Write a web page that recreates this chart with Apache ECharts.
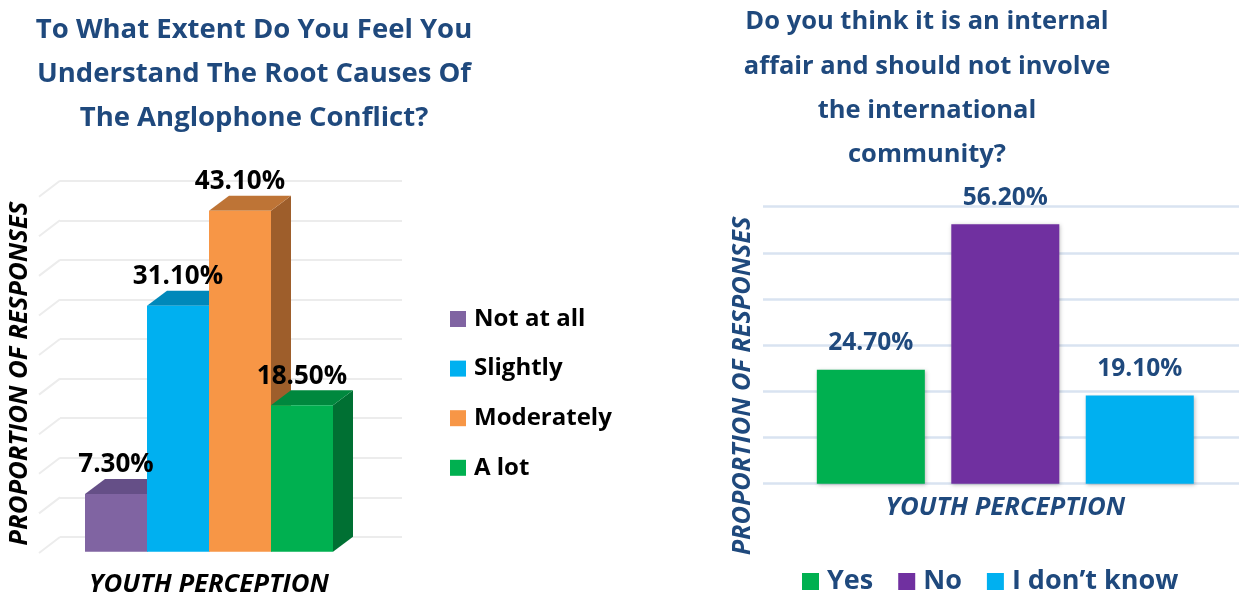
<!DOCTYPE html>
<html>
<head>
<meta charset="utf-8">
<title>Youth perception survey</title>
<script src="https://cdn.jsdelivr.net/npm/echarts@6/dist/echarts.min.js"></script>
<style>
  html, body { margin: 0; padding: 0; background: #ffffff; }
  #chart { width: 1239px; height: 593px; }
</style>
</head>
<body>
<div id="chart"></div>
<script>
// ---- data ----
const leftTitle = 'To What Extent Do You Feel You\nUnderstand The Root Causes Of\nThe Anglophone Conflict?';
const leftCategories = ['Not at all', 'Slightly', 'Moderately', 'A lot'];
const leftValues = [7.3, 31.1, 43.1, 18.5];

const rightTitle = 'Do you think it is an internal\naffair and should not involve\nthe international\ncommunity?';
const rightCategories = ['Yes', 'No', 'I don\u2019t know'];
const rightValues = [24.7, 56.2, 19.1];

const axisXName = 'YOUTH PERCEPTION';
const axisYName = 'PROPORTION OF RESPONSES';

// ---- styling ----
const FONT = '"Open Sans", Lato, sans-serif';
const NAVY = '#1F497D';
// front / top / side shades of each 3D column
const leftShades = [
  { front: '#8064A2', top: '#654F87', side: '#574478' },
  { front: '#00B0F0', top: '#0088BA', side: '#0076A3' },
  { front: '#F79646', top: '#BE7436', side: '#9E5E2B' },
  { front: '#00B050', top: '#00883E', side: '#007033' }
];
const rightColors = ['#00B050', '#7030A0', '#00B0F0'];

const LEFT_MAX = 45, LEFT_STEP = 5;
const RIGHT_MAX = 60, RIGHT_STEP = 10;
const DEPTH_X = 20, DEPTH_Y = -15;   // offset of the back face of each column

const chart = echarts.init(document.getElementById('chart'), null, { renderer: 'canvas' });

// 3D column drawn from the value through the axis scale
function renderColumn(params, api) {
  const idx = api.value(0);
  const val = api.value(1);
  const base = api.coord([idx, 0]);
  const top = api.coord([idx, val]);
  const bw = api.size([1, 0])[0];
  const xl = base[0] - bw / 2, xr = base[0] + bw / 2;
  const yb = base[1], yt = top[1];
  const shade = leftShades[params.seriesIndex - 1];
  const z = params.seriesIndex * 3;
  return {
    type: 'group',
    children: [
      { type: 'polygon', z2: z, shape: { points: [[xr, yt], [xr + DEPTH_X, yt + DEPTH_Y], [xr + DEPTH_X, yb + DEPTH_Y], [xr, yb]] }, style: { fill: shade.side } },
      { type: 'polygon', z2: z + 1, shape: { points: [[xl, yt], [xr, yt], [xr + DEPTH_X, yt + DEPTH_Y], [xl + DEPTH_X, yt + DEPTH_Y]] }, style: { fill: shade.top } },
      { type: 'rect', z2: z + 2, shape: { x: xl, y: yt, width: xr - xl, height: yb - yt }, style: { fill: shade.front } },
      { type: 'text', z2: 100, x: base[0], y: yt - 29, style: { text: val.toFixed(2) + '%', fill: '#000', font: 'bold 26px ' + FONT, align: 'center', verticalAlign: 'middle' } }
    ]
  };
}

// receding gridlines on the left wall of the 3D plot
function renderWall(params, api) {
  const children = [];
  for (let v = 0; v <= LEFT_MAX; v += LEFT_STEP) {
    const p = api.coord([0, v]);
    children.push({ type: 'line', shape: { x1: p[0], y1: p[1], x2: p[0] - DEPTH_X - 1, y2: p[1] - DEPTH_Y + 1 }, style: { stroke: '#ECECEC', lineWidth: 2 } });
  }
  return { type: 'group', children };
}

const leftSeries = leftCategories.map((name, i) => ({
  name,
  type: 'custom',
  xAxisIndex: 1,
  yAxisIndex: 1,
  itemStyle: { color: leftShades[i].front },
  renderItem: renderColumn,
  encode: { x: 0, y: 1 },
  data: [[i, leftValues[i]]]
}));

const rightSeries = rightCategories.map((name, i) => ({
  name,
  type: 'bar',
  xAxisIndex: 3,
  yAxisIndex: 3,
  barWidth: 108,
  barGap: '-100%',
  itemStyle: { color: rightColors[i], shadowBlur: 4, shadowColor: 'rgba(0,0,0,0.25)', shadowOffsetX: 1, shadowOffsetY: 1 },
  label: {
    show: true, position: 'top', distance: 14,
    formatter: p => p.value.toFixed(2) + '%',
    color: NAVY, fontFamily: FONT, fontWeight: 'bold', fontSize: 24.5
  },
  data: rightValues.map((v, j) => (j === i ? v : '-'))
}));

const option = {
  animation: false,
  backgroundColor: '#ffffff',
  textStyle: { fontFamily: FONT },
  grid: [
    { left: 60, top: 180.7, width: 342, height: 356.3, outerBoundsMode: 'none' },   // back wall of the 3D plot
    { left: 85, top: 195.7, width: 248, height: 356, outerBoundsMode: 'none' },     // front plane of the columns
    { left: 763, right: 0, top: 206.7, height: 277, outerBoundsMode: 'none' },      // right gridlines
    { left: 803.6, width: 403.4, top: 206.7, height: 277, outerBoundsMode: 'none' } // right bars
  ],
  xAxis: [
    { gridIndex: 0, type: 'value', min: 0, max: 1, show: false },
    {
      gridIndex: 1, type: 'category', data: leftCategories,
      axisLine: { show: false }, axisTick: { show: false }, axisLabel: { show: false },
      name: axisXName, nameLocation: 'middle', nameGap: 20,
      nameTextStyle: { color: '#000', fontWeight: 'bold', fontStyle: 'italic', fontSize: 25.7, fontFamily: FONT }
    },
    { gridIndex: 2, type: 'value', min: 0, max: 1, show: false },
    {
      gridIndex: 3, type: 'category', data: rightCategories,
      axisLine: { show: false }, axisTick: { show: false }, axisLabel: { show: false },
      name: axisXName, nameLocation: 'middle', nameGap: 11,
      nameTextStyle: { color: NAVY, fontWeight: 'bold', fontStyle: 'italic', fontSize: 25.7, fontFamily: FONT }
    }
  ],
  yAxis: [
    {
      gridIndex: 0, type: 'value', min: 0, max: LEFT_MAX, interval: LEFT_STEP,
      axisLine: { show: false }, axisTick: { show: false }, axisLabel: { show: false },
      splitLine: { show: true, lineStyle: { color: '#ECECEC', width: 2 } }
    },
    {
      gridIndex: 1, type: 'value', min: 0, max: LEFT_MAX, interval: LEFT_STEP,
      axisLine: { show: false }, axisTick: { show: false }, axisLabel: { show: false }, splitLine: { show: false },
      name: axisYName, nameLocation: 'middle', nameRotate: 90, nameGap: 52,
      nameTextStyle: { color: '#000', fontWeight: 'bold', fontStyle: 'italic', fontSize: 25.7, fontFamily: FONT }
    },
    {
      gridIndex: 2, type: 'value', min: 0, max: RIGHT_MAX, interval: RIGHT_STEP,
      axisLine: { show: false }, axisTick: { show: false }, axisLabel: { show: false },
      splitLine: { show: true, lineStyle: { color: '#D9E3F1', width: 2.5 } }
    },
    {
      gridIndex: 3, type: 'value', min: 0, max: RIGHT_MAX, interval: RIGHT_STEP,
      axisLine: { show: false }, axisTick: { show: false }, axisLabel: { show: false }, splitLine: { show: false }
    }
  ],
  legend: [
    {
      data: leftCategories, orient: 'vertical', left: 450, top: 307, padding: 0,
      itemWidth: 16, itemHeight: 16, itemGap: 25.6, icon: 'rect',
      textStyle: { color: '#000', fontWeight: 'bold', fontSize: 24, fontFamily: FONT, padding: [0, 0, 0, 3] }
    },
    {
      data: rightCategories, orient: 'horizontal', left: 802, top: 568, padding: 0,
      itemWidth: 17, itemHeight: 17, itemGap: 25, icon: 'rect',
      textStyle: { color: NAVY, fontWeight: 'bold', fontSize: 27, fontFamily: FONT, padding: [0, 0, 0, 3] }
    }
  ],
  graphic: [
    {
      type: 'text', x: 254, y: 74,
      style: { text: leftTitle, fill: NAVY, font: 'bold 27.5px ' + FONT, lineHeight: 44, align: 'center', verticalAlign: 'middle' }
    },
    {
      type: 'text', x: 927, y: 88.5,
      style: { text: rightTitle, fill: NAVY, font: 'bold 25.5px ' + FONT, lineHeight: 44.3, align: 'center', verticalAlign: 'middle' }
    },
    {
      type: 'text', x: 742.7, y: 386, rotation: Math.PI / 2,
      style: { text: axisYName, fill: NAVY, font: 'italic bold 25.3px ' + FONT, align: 'center', verticalAlign: 'middle' }
    }
  ],
  series: [
    {
      type: 'custom', xAxisIndex: 0, yAxisIndex: 0, silent: true,
      renderItem: renderWall, data: [[0, 0]], z: 1
    }
  ].concat(leftSeries, rightSeries)
};

chart.setOption(option);
</script>
</body>
</html>
